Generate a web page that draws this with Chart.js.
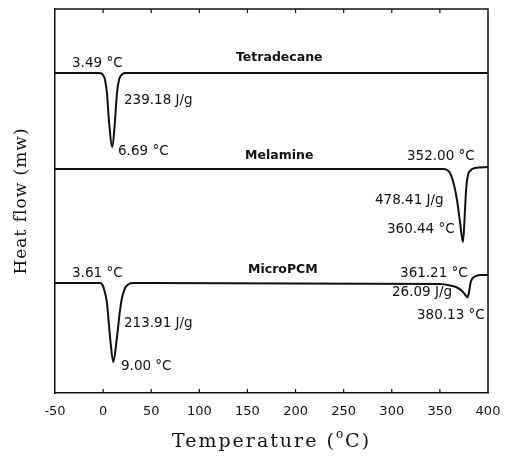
<!DOCTYPE html>
<html>
<head>
<meta charset="utf-8">
<script src="https://cdn.jsdelivr.net/npm/chart.js@4/dist/chart.umd.min.js"></script>
<style>
  html, body { margin: 0; padding: 0; background: #fff; }
  #wrap { width: 505px; height: 457px; }
</style>
</head>
<body>
<div id="wrap"><canvas id="dsc"></canvas></div>
<script>
// DSC curves, temperature in degC, heat flow in arbitrary units (stacked offsets)
const tetraTemp = [-50, -4, 0, 2, 4, 6, 9.6, 12.4, 14.4, 16.5, 19, 23, 400];
const tetraFlow = [320, 320, 318, 313, 300, 273, 246, 273, 300, 313, 318, 320, 320];

const melaTemp = [-50, 345, 353.3, 360.5, 364.7, 367.8, 370.9, 374.0, 376.1, 377.2, 379.2, 382.3, 386.5, 400];
const melaFlow = [224, 224, 224, 220, 208, 193, 171, 151, 183, 203, 218, 223, 225, 226];

const pcmTemp = [-50, -3.2, -0.1, 2.0, 4.0, 7.2, 10.6, 14.4, 17.6, 19.6, 22.8, 26.9, 31.1,
                 350.1, 360.5, 367.8, 373.0, 376.1, 378.7, 380.3, 381.8, 383.4, 387.5, 392.7, 400];
const pcmFlow = [110, 110, 107, 100, 90, 56, 31, 56, 83, 95, 105, 109, 110,
                 109, 107.5, 105.5, 102, 98.5, 95.5, 101, 110, 114, 117, 118, 118];

const xTicks = [-50, 0, 50, 100, 150, 200, 250, 300, 350, 400];

// text notes
const noteText = ['3.49 °C', '239.18 J/g', '6.69 °C', 'Tetradecane',
                  'Melamine', '352.00 °C', '478.41 J/g', '360.44 °C',
                  'MicroPCM', '3.61 °C', '213.91 J/g', '9.00 °C',
                  '361.21 °C', '26.09 J/g', '380.13 °C'];
const noteTemp = [-32.3, 21.7, 15.5, 138.1, 147.5, 315.8, 282.6, 295.0,
                  150.6, -32.3, 21.7, 18.6, 308.6, 300.2, 326.2];
const noteFlow = [330, 293, 242, 335, 237, 237, 193, 164,
                  123, 120, 70, 27, 120, 101, 78];
const noteBold = [false, false, false, true, true, false, false, false,
                  true, false, false, false, false, false, false];

function pts(xs, ys) {
    return xs.map((x, i) => ({x: x, y: ys[i]}));
}

const ink = '#111';

const extras = {
    id: 'extras',
    afterDraw(chart) {
        const ctx = chart.ctx;
        const a = chart.chartArea;
        const xs = chart.scales.x;
        const ys = chart.scales.y;
        ctx.save();
        // frame top + right
        ctx.strokeStyle = ink;
        ctx.lineWidth = 1.5;
        ctx.beginPath();
        ctx.moveTo(a.left, a.top);
        ctx.lineTo(a.right, a.top);
        ctx.lineTo(a.right, a.bottom);
        ctx.stroke();
        // inward ticks
        ctx.lineWidth = 1.2;
        xTicks.forEach(t => {
            if (t === xTicks[0] || t === xTicks[xTicks.length - 1]) return;
            const px = xs.getPixelForValue(t);
            ctx.beginPath();
            ctx.moveTo(px, a.bottom);
            ctx.lineTo(px, a.bottom - 4);
            ctx.moveTo(px, a.top);
            ctx.lineTo(px, a.top + 4);
            ctx.stroke();
        });
        // notes
        ctx.fillStyle = ink;
        ctx.textBaseline = 'middle';
        ctx.textAlign = 'left';
        noteText.forEach((txt, i) => {
            ctx.font = noteBold[i] ? 'bold 12.5px "DejaVu Sans"' : '13.5px "DejaVu Sans"';
            ctx.fillText(txt, xs.getPixelForValue(noteTemp[i]), ys.getPixelForValue(noteFlow[i]));
        });
        // axis titles
        ctx.letterSpacing = '2px';
        ctx.font = '19px "DejaVu Serif"';
        const p1 = 'Temperature (', sup = 'o', p2 = 'C)';
        const w1 = ctx.measureText(p1).width;
        const w2 = ctx.measureText(p2).width;
        ctx.font = '12px "DejaVu Serif"';
        const ws = ctx.measureText(sup).width;
        const total = w1 + ws + w2;
        let x0 = (a.left + a.right) / 2 - total / 2;
        const ty = 442;
        ctx.font = '19px "DejaVu Serif"';
        ctx.fillText(p1, x0, ty);
        ctx.font = '12px "DejaVu Serif"';
        ctx.fillText(sup, x0 + w1, ty - 7);
        ctx.font = '19px "DejaVu Serif"';
        ctx.fillText(p2, x0 + w1 + ws, ty);

        ctx.letterSpacing = '1px';
        ctx.translate(22, (a.top + a.bottom) / 2);
        ctx.rotate(-Math.PI / 2);
        ctx.textAlign = 'center';
        ctx.font = '17px "DejaVu Serif"';
        ctx.fillText('Heat flow (mw)', 0, 0);
        ctx.restore();
    }
};

const lineStyle = {
    borderColor: ink,
    borderWidth: 2,
    pointRadius: 0,
    fill: false,
    cubicInterpolationMode: 'monotone'
};

new Chart(document.getElementById('dsc'), {
    type: 'line',
    data: {
        datasets: [
            Object.assign({label: 'Tetradecane', data: pts(tetraTemp, tetraFlow)}, lineStyle),
            Object.assign({label: 'Melamine', data: pts(melaTemp, melaFlow)}, lineStyle),
            Object.assign({label: 'MicroPCM', data: pts(pcmTemp, pcmFlow)}, lineStyle)
        ]
    },
    options: {
        responsive: true,
        maintainAspectRatio: false,
        animation: false,
        layout: { padding: { left: 55, right: 17, top: 9, bottom: 0 } },
        plugins: { legend: { display: false }, tooltip: { enabled: false } },
        scales: {
            x: {
                type: 'linear',
                min: -50,
                max: 400,
                afterBuildTicks: s => { s.ticks = xTicks.map(v => ({value: v})); },
                afterFit: s => { s.height = 64; s.paddingLeft = 0; s.paddingRight = 0; },
                grid: { display: true, drawOnChartArea: false, drawTicks: false },
                border: { display: true, color: ink, width: 1.5 },
                ticks: {
                    color: ink,
                    padding: 11,
                    maxRotation: 0,
                    font: { family: 'DejaVu Sans', size: 13 }
                }
            },
            y: {
                min: 0,
                max: 384,
                afterFit: s => { s.width = 0; },
                grid: { display: false },
                border: { display: true, color: ink, width: 1.5 },
                ticks: { display: false }
            }
        }
    },
    plugins: [extras]
});
</script>
</body>
</html>
